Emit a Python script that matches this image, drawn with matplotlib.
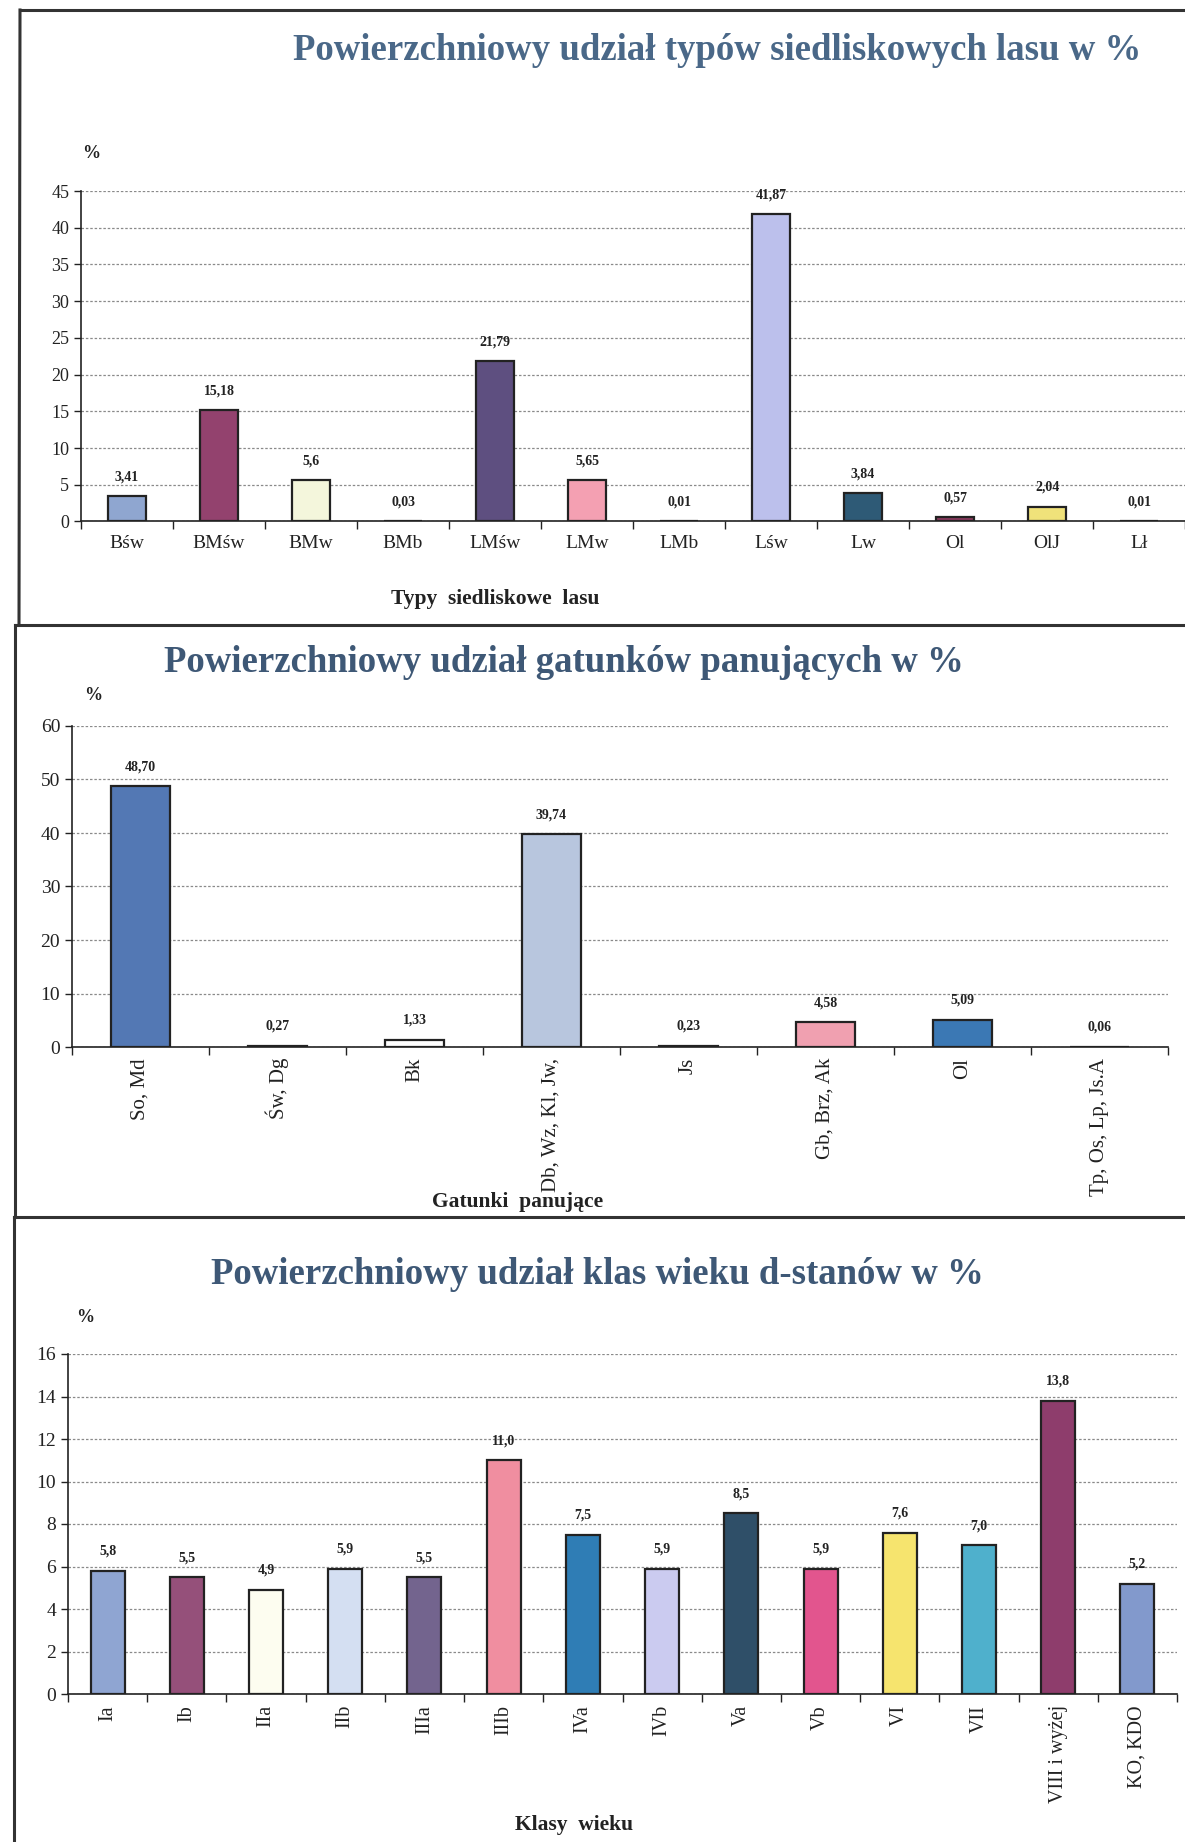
import matplotlib
matplotlib.use("Agg")
import matplotlib.pyplot as plt
from matplotlib.lines import Line2D
import numpy as np

plt.rcParams['font.family'] = ['Liberation Serif', 'DejaVu Serif']

# ---------------- data ----------------
types = ["Bśw", "BMśw", "BMw", "BMb", "LMśw", "LMw", "LMb", "Lśw", "Lw", "Ol", "OlJ", "Lł"]
types_vals = [3.41, 15.18, 5.6, 0.03, 21.79, 5.65, 0.01, 41.87, 3.84, 0.57, 2.04, 0.01]
types_lbls = ["3,41", "15,18", "5,6", "0,03", "21,79", "5,65", "0,01", "41,87", "3,84", "0,57", "2,04", "0,01"]
types_cols = ["#8fa6d0", "#93426e", "#f4f6dc", "#555555", "#5e4f80", "#f4a0b2", "#555555",
              "#bcc0ec", "#2e5a76", "#8b3a5e", "#f0e27a", "#555555"]

species = ["So, Md", "Św, Dg", "Bk", "Db, Wz, Kl, Jw,", "Js", "Gb, Brz, Ak", "Ol", "Tp, Os, Lp, Js.A"]
species_vals = [48.70, 0.27, 1.33, 39.74, 0.23, 4.58, 5.09, 0.06]
species_lbls = ["48,70", "0,27", "1,33", "39,74", "0,23", "4,58", "5,09", "0,06"]
species_cols = ["#5378b4", "#555555", "#ffffff", "#b8c6de", "#555555", "#f0a0b0", "#3b78b4", "#555555"]

ages = ["Ia", "Ib", "IIa", "IIb", "IIIa", "IIIb", "IVa", "IVb", "Va", "Vb", "VI", "VII", "VIII i wyżej", "KO, KDO"]
ages_vals = [5.8, 5.5, 4.9, 5.9, 5.5, 11.0, 7.5, 5.9, 8.5, 5.9, 7.6, 7.0, 13.8, 5.2]
ages_lbls = ["5,8", "5,5", "4,9", "5,9", "5,5", "11,0", "7,5", "5,9", "8,5", "5,9", "7,6", "7,0", "13,8", "5,2"]
ages_cols = ["#8fa5d2", "#95507a", "#fdfdf0", "#d4dff2", "#73648e", "#f08ea0", "#2f7db5",
             "#cbcbf0", "#2f4f68", "#e2558e", "#f6e46e", "#4fb0cc", "#8e3d6c", "#8299cc"]

W, H = 1185, 1842
fig = plt.figure(figsize=(W / 100, H / 100), dpi=100)
fig.patch.set_facecolor("white")


def fx(px):
    return px / W


def fy(py):
    return 1 - py / H


def make_axes(left, right, top, bottom):
    return fig.add_axes([fx(left), fy(bottom), fx(right) - fx(left), fy(top) - fy(bottom)])


def style_bars(ax, cats, vals, lbls, cols, ymax, ystep, width, rot, tick_fs, lbl_fs, val_fs):
    n = len(cats)
    x = np.arange(n)
    ax.bar(x, vals, width=width, color=cols, edgecolor="#222222", linewidth=1.6, zorder=3)
    for xi, v, t in zip(x, vals, lbls):
        ax.annotate(t, (xi, v), xytext=(0, 14), textcoords="offset points",
                    ha="center", va="center", fontsize=val_fs, fontweight="bold", color="#222222")
    ax.set_xlim(-0.5, n - 0.5)
    ax.set_ylim(0, ymax)
    ax.set_yticks(np.arange(0, ymax + 0.001, ystep))
    ax.tick_params(axis="y", labelsize=tick_fs, direction="out", length=5, width=1, colors="#222222")
    ax.set_xticks(x)
    if rot:
        ax.set_xticklabels(cats, rotation=90, fontsize=lbl_fs, va="top", ha="center")
    else:
        ax.set_xticklabels(cats, fontsize=lbl_fs)
    ax.tick_params(axis="x", length=0, pad=10 if not rot else 8, colors="#222222")
    ax.set_xticks(np.arange(-0.5, n, 1.0), minor=True)
    ax.tick_params(axis="x", which="minor", length=6, width=1, direction="out", color="#222222")
    ax.yaxis.grid(True, linestyle=(0, (2, 1.5)), color="#8a8a8a", linewidth=0.9, zorder=0)
    ax.set_axisbelow(True)
    for s in ["top", "right"]:
        ax.spines[s].set_visible(False)
    ax.spines["left"].set_color("#222222")
    ax.spines["bottom"].set_color("#222222")
    ax.spines["left"].set_linewidth(1.2)
    ax.spines["bottom"].set_linewidth(1.2)
    ax.set_facecolor("none")


# Chart 1
ax1 = make_axes(81, 1185, 191, 521.5)
style_bars(ax1, types, types_vals, types_lbls, types_cols, 45, 5, 0.42, False, 13, 14, 10)

# Chart 2
ax2 = make_axes(72, 1168, 726, 1047)
style_bars(ax2, species, species_vals, species_lbls, species_cols, 60, 10, 0.43, True, 14, 15, 10)

# Chart 3
ax3 = make_axes(68, 1177, 1354, 1694)
style_bars(ax3, ages, ages_vals, ages_lbls, ages_cols, 16, 2, 0.43, True, 14, 14.5, 10)

# Titles
tcol = "#3e5876"
fig.text(fx(717), fy(50), "Powierzchniowy udział typów siedliskowych lasu w %", ha="center", va="center",
         fontsize=26.5, fontweight="bold", color="#4a6888")
fig.text(fx(564), fy(662), "Powierzchniowy udział gatunków panujących w %", ha="center", va="center",
         fontsize=26.5, fontweight="bold", color=tcol)
fig.text(fx(597), fy(1274), "Powierzchniowy udział klas wieku d-stanów w %", ha="center", va="center",
         fontsize=26.5, fontweight="bold", color=tcol)

# percent signs
for (px, py) in [(91, 153), (93, 695), (85, 1317)]:
    fig.text(fx(px), fy(py), "%", ha="center", va="center", fontsize=13, fontweight="bold", color="#222222")

# axis titles
fig.text(fx(495), fy(599), "Typy  siedliskowe  lasu", ha="center", va="center", fontsize=15.5,
         fontweight="bold", color="#222222")
fig.text(fx(518), fy(1202), "Gatunki  panujące", ha="center", va="center", fontsize=15.5,
         fontweight="bold", color="#222222")
fig.text(fx(574), fy(1825), "Klasy  wieku", ha="center", va="center", fontsize=15.5,
         fontweight="bold", color="#222222")

# frame lines
fc = "#333333"
for (x0, y0, x1, y1) in [(20, 10, 1185, 10), (20, 10, 19, 625), (15, 625, 1185, 625),
                          (15, 625, 15, 1217), (14, 1217, 1185, 1217), (14, 1217, 14, 1842)]:
    fig.add_artist(Line2D([fx(x0), fx(x1)], [fy(y0), fy(y1)], color=fc, linewidth=2.2))

fig.savefig("out.png", dpi=100)
